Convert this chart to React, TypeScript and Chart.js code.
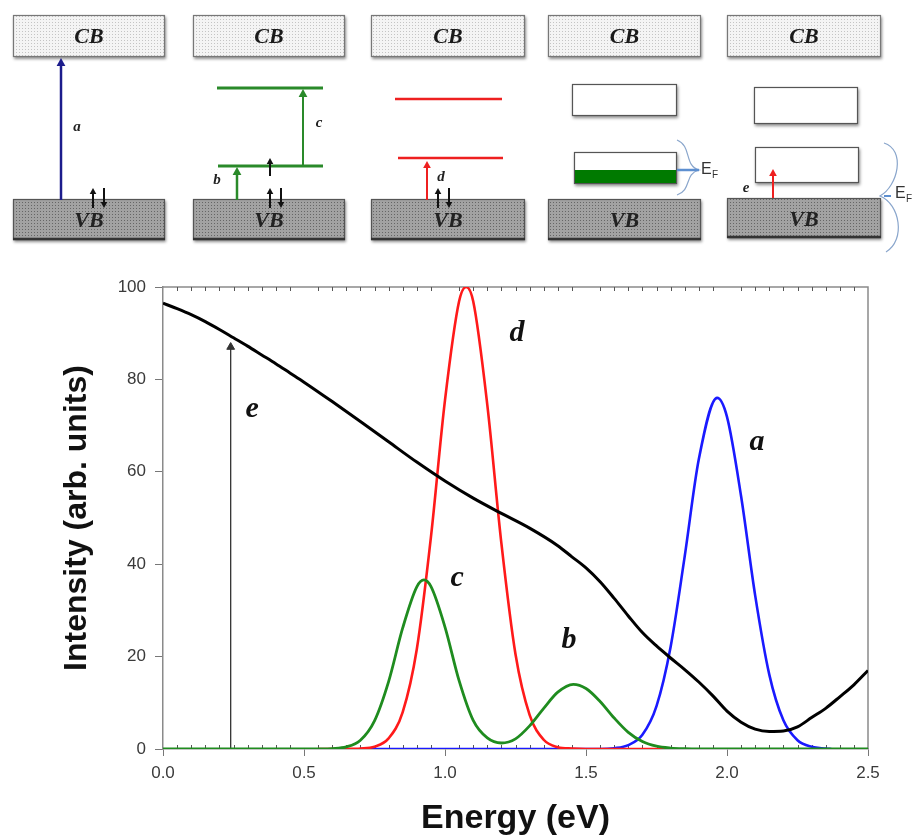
import React, { useEffect, useRef } from "react";
import { Chart, registerables } from "chart.js";

Chart.register(...registerables);

// ---- data ----
const blackX = [0, 0.05, 0.1, 0.15, 0.2, 0.25, 0.3, 0.35, 0.4, 0.45, 0.5, 0.6, 0.7, 0.8, 0.9, 1.0, 1.1, 1.2, 1.3, 1.4, 1.45, 1.5, 1.55, 1.6, 1.65, 1.7, 1.75, 1.8, 1.85, 1.9, 1.95, 2.0, 2.05, 2.1, 2.15, 2.2, 2.25, 2.3, 2.35, 2.4, 2.45, 2.5];
const blackY = [96.5, 95.3, 94.0, 92.5, 90.8, 89.0, 87.2, 85.3, 83.4, 81.4, 79.4, 75.2, 70.9, 66.5, 62.1, 58.0, 54.3, 51.0, 47.8, 44.0, 41.6, 39.2, 36.2, 32.6, 28.8, 25.2, 22.3, 19.7, 17.2, 14.5, 11.5, 8.2, 5.8, 4.3, 3.8, 3.9, 4.8, 6.8, 8.8, 11.3, 13.9, 17.0];

const redX = [0.55, 0.65, 0.7, 0.75, 0.8, 0.85, 0.9, 0.95, 1.0, 1.05, 1.075, 1.1, 1.15, 1.2, 1.25, 1.3, 1.35, 1.4, 1.45, 1.5, 1.8];
const redY = [0, 0.02, 0.1, 0.5, 2.3, 8.0, 21.6, 45.8, 75.5, 96.9, 100, 96.9, 74.5, 44.5, 20.5, 7.4, 2.0, 0.4, 0.1, 0, 0];

const greenX = [0, 0.5, 0.55, 0.6, 0.65, 0.7, 0.75, 0.8, 0.85, 0.9, 0.925, 0.95, 1.0, 1.05, 1.1, 1.15, 1.2, 1.25, 1.3, 1.35, 1.4, 1.455, 1.5, 1.55, 1.6, 1.65, 1.7, 1.75, 1.8, 1.85, 1.9, 2.5];
const greenY = [0, 0, 0.02, 0.1, 0.45, 1.9, 6.1, 14.6, 26.2, 35.1, 36.6, 35.2, 26.4, 14.8, 6.2, 2.4, 1.3, 2.2, 5.0, 8.8, 12.3, 14.0, 13.1, 10.3, 6.7, 3.6, 1.6, 0.6, 0.2, 0.05, 0, 0];

const blueX = [0.7, 1.55, 1.6, 1.65, 1.7, 1.75, 1.8, 1.85, 1.9, 1.965, 2.0, 2.05, 2.1, 2.15, 2.2, 2.25, 2.3, 2.35, 2.37];
const blueY = [0, 0, 0.18, 0.85, 3.1, 9.3, 22.1, 41.7, 62.7, 76, 71.9, 54.7, 33.2, 16.1, 6.2, 1.9, 0.47, 0.1, 0];

const arrowX = [0.24, 0.24];
const arrowY = [0, 87];

const xTickValues = [0, 0.5, 1.0, 1.5, 2.0, 2.5];
const yTickValues = [0, 20, 40, 60, 80, 100];

const peakLabels = ["a", "b", "c", "d", "e"];
const peakLabelX = [2.106, 1.44, 1.043, 1.255, 0.316];
const peakLabelY = [66.4, 23.6, 37.0, 90.0, 73.6];

const toPts = (xs: number[], ys: number[]) => xs.map((x, i) => ({ x, y: ys[i] }));

const SERIF = "'Liberation Serif', 'DejaVu Serif', serif";
const SANS = "'Liberation Sans', Arial, sans-serif";

// ---- schematic helpers ----
function makePattern(ctx: CanvasRenderingContext2D, base: string, dot: string) {
  const c = document.createElement("canvas");
  c.width = 3;
  c.height = 3;
  const g = c.getContext("2d")!;
  g.fillStyle = base;
  g.fillRect(0, 0, 3, 3);
  g.fillStyle = dot;
  g.fillRect(1, 1, 1, 1);
  return ctx.createPattern(c, "repeat")!;
}

function box(ctx: CanvasRenderingContext2D, x: number, y: number, w: number, h: number, fill: any, stroke: string, shadow = true) {
  ctx.save();
  if (shadow) {
    ctx.shadowColor = "rgba(0,0,0,0.45)";
    ctx.shadowBlur = 3;
    ctx.shadowOffsetX = 1;
    ctx.shadowOffsetY = 2;
  }
  ctx.fillStyle = fill;
  ctx.fillRect(x, y, w, h);
  ctx.restore();
  ctx.save();
  ctx.strokeStyle = stroke;
  ctx.lineWidth = 1.2;
  ctx.strokeRect(x + 0.5, y + 0.5, w - 1, h - 1);
  ctx.restore();
}

function vArrow(ctx: CanvasRenderingContext2D, x: number, y0: number, y1: number, color: string, lw: number, head: number) {
  const dir = y1 < y0 ? -1 : 1;
  ctx.save();
  ctx.strokeStyle = color;
  ctx.fillStyle = color;
  ctx.lineWidth = lw;
  ctx.beginPath();
  ctx.moveTo(x, y0);
  ctx.lineTo(x, y1 - dir * head * 0.8);
  ctx.stroke();
  ctx.beginPath();
  ctx.moveTo(x, y1);
  ctx.lineTo(x - head * 0.55, y1 - dir * head);
  ctx.lineTo(x + head * 0.55, y1 - dir * head);
  ctx.closePath();
  ctx.fill();
  ctx.restore();
}

function hLine(ctx: CanvasRenderingContext2D, x0: number, x1: number, y: number, color: string, lw: number) {
  ctx.save();
  ctx.strokeStyle = color;
  ctx.lineWidth = lw;
  ctx.beginPath();
  ctx.moveTo(x0, y);
  ctx.lineTo(x1, y);
  ctx.stroke();
  ctx.restore();
}

function txt(ctx: CanvasRenderingContext2D, s: string, x: number, y: number, font: string, color: string, align: CanvasTextAlign = "center") {
  ctx.save();
  ctx.font = font;
  ctx.fillStyle = color;
  ctx.textAlign = align;
  ctx.textBaseline = "middle";
  ctx.fillText(s, x, y);
  ctx.restore();
}

function spins(ctx: CanvasRenderingContext2D, x: number) {
  vArrow(ctx, x, 208, 188, "#111", 2, 6);
  vArrow(ctx, x + 11, 188, 208, "#111", 2, 6);
}

const cbBoxes = [[13, 15, 152, 42], [193, 15, 152, 42], [371, 15, 154, 42], [548, 15, 153, 42], [727, 15, 154, 42]];
const vbBoxes = [[13, 199, 152, 41], [193, 199, 152, 41], [371, 199, 154, 41], [548, 199, 153, 41], [727, 198, 154, 40]];

function drawSchematic(ctx: CanvasRenderingContext2D) {
  const cbFill = makePattern(ctx, "#f4f4f4", "#c4c4c4");
  const vbFill = makePattern(ctx, "#a2a2a2", "#666666");
  const bandFont = `italic bold 22px ${SERIF}`;
  const lblFont = `italic bold 15px ${SERIF}`;

  cbBoxes.forEach(([x, y, w, h]) => {
    box(ctx, x, y, w, h, cbFill, "#777");
    txt(ctx, "CB", x + w / 2, y + h / 2 + 1, bandFont, "#1a1a1a");
  });
  vbBoxes.forEach(([x, y, w, h]) => {
    box(ctx, x, y, w, h, vbFill, "#555");
    hLine(ctx, x, x + w, y + h - 1, "#333", 2.5);
    txt(ctx, "VB", x + w / 2, y + h / 2 + 2, bandFont, "#222");
  });

  // panel 1
  vArrow(ctx, 61, 200, 58, "#1c1c8c", 2.5, 8);
  txt(ctx, "a", 77, 127, lblFont, "#222");
  spins(ctx, 93);

  // panel 2
  const g = "#2a8a2a";
  hLine(ctx, 217, 323, 88, g, 3);
  hLine(ctx, 218, 323, 166, g, 3);
  vArrow(ctx, 303, 166, 89, g, 2, 8);
  vArrow(ctx, 237, 200, 167, g, 2.5, 8);
  vArrow(ctx, 270, 176, 158, "#111", 2, 6);
  txt(ctx, "c", 319, 123, lblFont, "#222");
  txt(ctx, "b", 217, 180, lblFont, "#222");
  spins(ctx, 270);

  // panel 3
  const r = "#ee2020";
  hLine(ctx, 395, 502, 99, r, 2.5);
  hLine(ctx, 398, 503, 158, r, 2.5);
  vArrow(ctx, 427, 200, 161, r, 2, 7);
  txt(ctx, "d", 441, 177, lblFont, "#222");
  spins(ctx, 438);

  // panel 4
  box(ctx, 572, 84, 105, 32, "#fff", "#555");
  box(ctx, 574, 152, 103, 32, "#fff", "#555");
  ctx.fillStyle = "#007a00";
  ctx.fillRect(575, 170, 101, 13);
  ctx.save();
  ctx.strokeStyle = "#8aa6cc";
  ctx.lineWidth = 1.2;
  ctx.beginPath();
  ctx.moveTo(677, 140);
  ctx.bezierCurveTo(692, 146, 684, 166, 699, 170);
  ctx.bezierCurveTo(684, 174, 692, 190, 677, 195);
  ctx.stroke();
  ctx.restore();
  hLine(ctx, 677, 699, 170, "#5d8fd0", 2.5);
  txt(ctx, "E", 701, 170, `16px ${SANS}`, "#333", "left");
  txt(ctx, "F", 712, 175, `10px ${SANS}`, "#333", "left");

  // panel 5
  box(ctx, 754, 87, 104, 37, "#fff", "#555");
  box(ctx, 755, 147, 104, 36, "#fff", "#555");
  vArrow(ctx, 773, 198, 169, r, 2, 7);
  txt(ctx, "e", 746, 188, lblFont, "#222");
  ctx.save();
  ctx.strokeStyle = "#8aa6cc";
  ctx.lineWidth = 1.2;
  ctx.beginPath();
  ctx.moveTo(884, 143);
  ctx.bezierCurveTo(906, 150, 898, 186, 880, 196);
  ctx.bezierCurveTo(900, 204, 906, 240, 886, 252);
  ctx.stroke();
  ctx.restore();
  hLine(ctx, 884, 891, 196, "#5d8fd0", 2);
  txt(ctx, "E", 895, 194, `16px ${SANS}`, "#333", "left");
  txt(ctx, "F", 906, 199, `10px ${SANS}`, "#333", "left");
}

const overlayPlugin = {
  id: "overlay",
  beforeDatasetsDraw(chart: any) {
    const ctx: CanvasRenderingContext2D = chart.ctx;
    const { left, right, top, bottom } = chart.chartArea;
    const xs = chart.scales.x;
    ctx.save();
    ctx.strokeStyle = "#8a8a8a";
    ctx.lineWidth = 1.5;
    ctx.beginPath();
    ctx.moveTo(left, top);
    ctx.lineTo(right, top);
    ctx.lineTo(right, bottom);
    ctx.stroke();
    ctx.strokeStyle = "#555";
    ctx.lineWidth = 1;
    ctx.beginPath();
    for (let i = 1; i < 50; i++) {
      if (i % 10 === 0) continue;
      const px = Math.round(xs.getPixelForValue(i * 0.05)) + 0.5;
      ctx.moveTo(px, top);
      ctx.lineTo(px, top + 4);
      ctx.moveTo(px, bottom);
      ctx.lineTo(px, bottom - 4);
    }
    ctx.stroke();
    ctx.restore();
  },
  afterDraw(chart: any) {
    const ctx: CanvasRenderingContext2D = chart.ctx;
    const xs = chart.scales.x;
    const ys = chart.scales.y;
    ctx.save();
    ctx.font = `italic bold 30px ${SERIF}`;
    ctx.fillStyle = "#111";
    ctx.textAlign = "center";
    ctx.textBaseline = "middle";
    peakLabels.forEach((s, i) => {
      ctx.fillText(s, xs.getPixelForValue(peakLabelX[i]), ys.getPixelForValue(peakLabelY[i]));
    });
    ctx.restore();
    drawSchematic(ctx);
  },
};

export default function App() {
  const ref = useRef<HTMLCanvasElement | null>(null);
  useEffect(() => {
    if (!ref.current) return;
    const common = { pointRadius: 0, fill: false, cubicInterpolationMode: "monotone" as const };
    const chart = new Chart(ref.current, {
      type: "line",
      data: {
        datasets: [
          { ...common, data: toPts(blackX, blackY), borderColor: "#000", borderWidth: 3, order: 0 },
          { ...common, data: toPts(greenX, greenY), borderColor: "#1f8c1f", borderWidth: 2.8, order: 1 },
          { ...common, data: toPts(redX, redY), borderColor: "#ff1a1a", borderWidth: 2.6, order: 2 },
          { ...common, data: toPts(blueX, blueY), borderColor: "#1a1aff", borderWidth: 2.6, order: 3 },
          {
            data: toPts(arrowX, arrowY),
            borderColor: "#333",
            borderWidth: 1.3,
            pointStyle: "triangle",
            pointRadius: [0, 4.5],
            pointBackgroundColor: "#333",
            pointBorderColor: "#333",
            pointBorderWidth: 1,
            order: 4,
          } as any,
        ],
      },
      options: {
        responsive: false,
        devicePixelRatio: 1,
        animation: false,
        layout: { padding: { top: 287, right: 44, left: 0, bottom: 0 } },
        plugins: { legend: { display: false }, tooltip: { enabled: false } },
        scales: {
          x: {
            type: "linear",
            min: 0,
            max: 2.5,
            afterFit: (s: any) => { s.height = 89; },
            afterBuildTicks: (s: any) => { s.ticks = xTickValues.map((v) => ({ value: v })); },
            ticks: {
              callback: (v: any) => Number(v).toFixed(1),
              font: { family: SANS, size: 17 },
              color: "#3a3a3a",
              padding: 7,
              maxRotation: 0,
              autoSkip: false,
            },
            grid: { drawOnChartArea: false, drawTicks: true, tickLength: 7, color: "#777" },
            border: { display: true, color: "#8a8a8a", width: 1.5 },
            title: {
              display: true,
              text: "Energy (eV)",
              font: { family: SANS, size: 34, weight: "bold", lineHeight: 1 },
              color: "#111",
              padding: { top: 0, bottom: 2 },
            },
          },
          y: {
            type: "linear",
            min: 0,
            max: 100,
            afterFit: (s: any) => { s.width = 163; },
            afterBuildTicks: (s: any) => { s.ticks = yTickValues.map((v) => ({ value: v })); },
            ticks: {
              font: { family: SANS, size: 17 },
              color: "#3a3a3a",
              padding: 9,
              autoSkip: false,
            },
            grid: { drawOnChartArea: false, drawTicks: true, tickLength: 8, color: "#777" },
            border: { display: true, color: "#8a8a8a", width: 1.5 },
            title: {
              display: true,
              text: "Intensity (arb. units)",
              font: { family: SANS, size: 32, weight: "bold" },
              color: "#111",
              padding: { top: 58, bottom: 0 },
            },
          },
        },
      },
      plugins: [overlayPlugin],
    });
    return () => chart.destroy();
  }, []);

  return (
    <div style={{ position: "fixed", left: 0, top: 0, width: 912, height: 838, background: "#fff" }}>
      <canvas ref={ref} width={912} height={838} style={{ display: "block", width: 912, height: 838 }} />
    </div>
  );
}
